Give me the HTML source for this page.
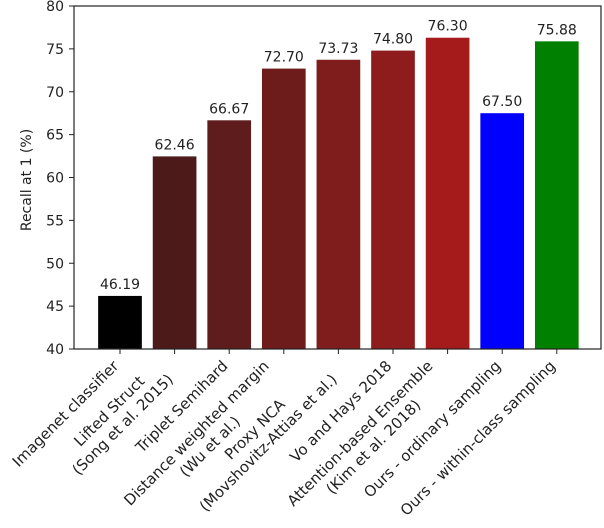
<!DOCTYPE html>
<html><head><meta charset="utf-8"><style>
body{margin:0;background:#fff}
svg{display:block;font-family:"DejaVu Sans","Liberation Sans",sans-serif}
</style></head><body>
<svg id="chart" width="604" height="528" viewBox="0 0 604 528"></svg>
<script>
const categories = [["Imagenet classifier"],["Lifted Struct","(Song et al. 2015)"],["Triplet Semihard"],["Distance weighted margin","(Wu et al.)"],["Proxy NCA","(Movshovitz-Attias et al.)"],["Vo and Hays 2018"],["Attention-based Ensemble","(Kim et al. 2018)"],["Ours - ordinary sampling"],["Ours - within-class sampling"]];
const values = [46.19, 62.46, 66.67, 72.70, 73.73, 74.80, 76.30, 67.50, 75.88];
const valueLabels = ["46.19","62.46","66.67","72.70","73.73","74.80","76.30","67.50","75.88"];
const colors = ["#000000","#4d1a1a","#5e1c1c","#6e1b1b","#7f1c1c","#8f1c1c","#a51b1b","#0000ff","#008000"];
const yTicks = [40,45,50,55,60,65,70,75,80];

const NS="http://www.w3.org/2000/svg";
const svg=document.getElementById('chart');
const L=74,R=601,T=6,B=349,yMin=40,yMax=80;
const x0=120,step=54.6,bw=step*0.8;
const xs=i=>x0+step*i;
const ys=v=>B-(v-yMin)/(yMax-yMin)*(B-T);
function mk(tag,attrs,parent){const e=document.createElementNS(NS,tag);for(const k in attrs)e.setAttribute(k,attrs[k]);(parent||svg).appendChild(e);return e;}

values.forEach((v,i)=>{
  const r=mk('rect',{x:xs(i)-bw/2,y:ys(v),width:bw,height:B-ys(v),fill:colors[i]});
  
  
  const t=mk('text',{x:xs(i),y:ys(v)-7,'text-anchor':'middle','font-size':'14',fill:'#222'});
  t.textContent=valueLabels[i];
  
  
});

yTicks.forEach(v=>{
  const y=ys(v);
  mk('line',{x1:L-5,x2:L,y1:y,y2:y,stroke:'#222','stroke-width':1});
  const t=mk('text',{x:L-10,y:y+5,'text-anchor':'end','font-size':'14',fill:'#222'});
  t.textContent=v;
  
  
});

const fs=15,lh=19;
categories.forEach((lines,i)=>{
  const tx=xs(i);
  mk('line',{x1:tx,x2:tx,y1:B,y2:B+5,stroke:'#222','stroke-width':1});
  const H=lines.length*lh;
  const g=mk('g',{});
  
  
  const texts=lines.map((s,j)=>{const t=mk('text',{x:0,y:(j+1)*lh-5,'font-size':fs,fill:'#222'},g);t.textContent=s;return t;});
  const ws=texts.map(t=>t.getComputedTextLength());const W=Math.max(...ws);
  texts.forEach((t,j)=>t.setAttribute('x',-W+(W-ws[j])/2));
  g.setAttribute('transform',`translate(${tx-H/Math.SQRT2+3},${B+8}) rotate(-45)`);
});

const fr=mk('rect',{x:L,y:T,width:R-L,height:B-T,fill:'none',stroke:'#222','stroke-width':1.2});


const yl=mk('text',{x:0,y:0,'text-anchor':'middle','font-size':'14',fill:'#222',transform:`translate(31,180) rotate(-90)`});
yl.textContent='Recall at 1 (%)';


</script>
</body></html>
